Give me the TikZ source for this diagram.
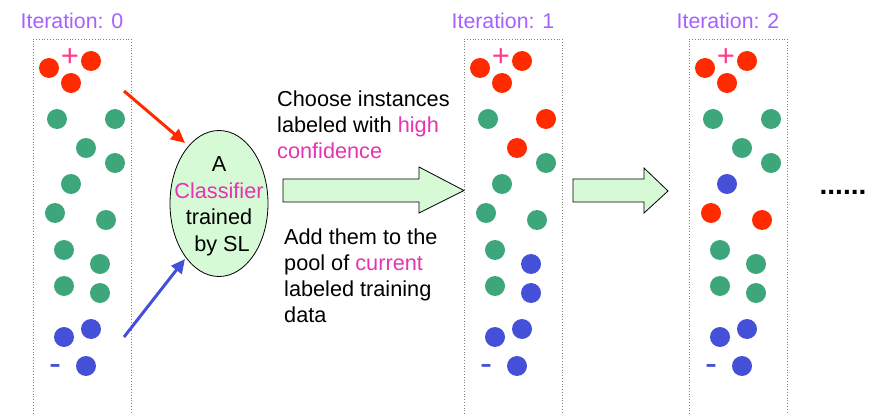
\documentclass[tikz,border=0pt]{standalone}
\usepackage{fontspec}
\setmainfont{Liberation Sans}
\usetikzlibrary{shapes.geometric,arrows.meta}
\definecolor{dred}{RGB}{255,42,0}
\definecolor{dgreen}{RGB}{61,166,122}
\definecolor{dblue}{RGB}{68,80,216}
\definecolor{plusc}{RGB}{255,61,139}
\definecolor{ttl}{RGB}{166,96,255}
\definecolor{mag}{RGB}{230,51,176}
\definecolor{lgreen}{RGB}{214,250,214}
\begin{document}
\begin{tikzpicture}[x=1pt,y=-1pt,
  txt/.style={inner sep=0pt,align=left,font=\fontsize{21.7}{26}\selectfont},
  title/.style={inner sep=0pt,text=ttl,font=\fontsize{21.3}{24}\selectfont},
  panelbox/.style={draw=gray,dotted,line width=0.8pt},
  bigarrow/.style={draw=black,fill=lgreen,line width=0.8pt,line join=miter},
  feed/.style={line width=3pt,-{Triangle[length=14pt,width=13pt]}}]
\useasboundingbox (0,0) rectangle (873,414);
% panels
\foreach \ox/\n in {0/0,431/1,656/2}{
  \draw[panelbox] (33+\ox,414) -- (33+\ox,39) -- (131+\ox,39) -- (131+\ox,414);
  \node[title] (t\n) at (72+\ox,21) {Iteration: \n};
  \foreach \px/\py in {49/68,91/61,71/83}
    \fill[dred] (\px+\ox,\py) circle (10);
  \foreach \px/\py in {64/337,91/329,86/366}
    \fill[dblue] (\px+\ox,\py) circle (10);
  \node[text=plusc,inner sep=0pt,font=\fontsize{31}{31}\selectfont] (plus\n) at (70+\ox,58) {+};
  \node[text=dblue,inner sep=0pt,font=\fontsize{36}{36}\selectfont] (minus\n) at (55+\ox,370) {-};
}
% middle dots
\foreach \px/\py/\c in {57/119/dgreen,115/119/dgreen,86/148/dgreen,115/163/dgreen,71/184/dgreen,55/213/dgreen,106/220/dgreen,64/250/dgreen,100/264/dgreen,64/286/dgreen,100/293/dgreen}
  \fill[\c] (\px,\py) circle (10);
\foreach \px/\py/\c in {57/119/dgreen,115/119/dred,86/148/dred,115/163/dgreen,71/184/dgreen,55/213/dgreen,106/220/dgreen,64/250/dgreen,100/264/dblue,64/286/dgreen,100/293/dblue}
  \fill[\c] (\px+431,\py) circle (10);
\foreach \px/\py/\c in {57/119/dgreen,115/119/dgreen,86/148/dgreen,115/163/dgreen,71/184/dblue,55/213/dred,106/220/dred,64/250/dgreen,100/264/dgreen,64/286/dgreen,100/293/dgreen}
  \fill[\c] (\px+656,\py) circle (10);
% classifier
\node[ellipse,draw=black,fill=lgreen,line width=0.8pt,minimum width=98pt,minimum height=146pt,inner sep=0pt] (cls) at (219,203.5) {};
\node[inner sep=0pt,align=center,font=\fontsize{21.7}{26.5}\selectfont] (clstext) at (219,206.5)
  {A\\\textcolor{mag}{Classifier}\\trained\\\ by SL};
\coordinate (rs) at (124,91);
\coordinate (bs) at (124,337);
\draw[feed,dred] (rs) -- (185,143);
\draw[feed,dblue] (bs) -- (185,259);
% big arrows
\draw[bigarrow] (283,179) -- (419,179) -- (419,167) -- (464,190.5) -- (419,213) -- (419,202) -- (283,202) -- cycle;
\draw[bigarrow] (573,179) -- (644,179) -- (644,168) -- (668,191) -- (644,213) -- (644,202) -- (573,202) -- cycle;
% texts
\node[txt,anchor=north west] (choose) at (277,91) {Choose instances\\labeled with \textcolor{mag}{high}\\\textcolor{mag}{confidence}};
\node[txt,anchor=north west] (add) at (284,229) {Add them to the\\pool of \textcolor{mag}{current}\\labeled training\\data};
\node[inner sep=0pt,anchor=base,font=\bfseries\fontsize{28}{28}\selectfont] (dots) at (843,195) {......};
\end{tikzpicture}
\end{document}
